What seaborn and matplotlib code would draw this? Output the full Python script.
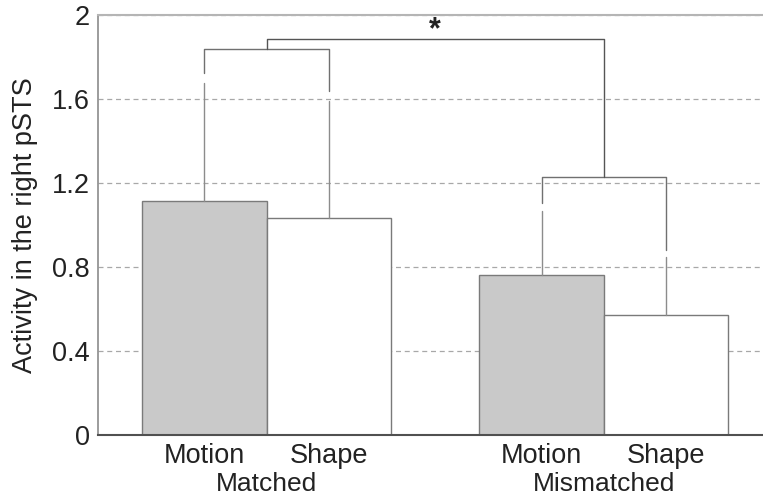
import pandas as pd
import matplotlib
matplotlib.use("Agg")
import matplotlib.pyplot as plt
import seaborn as sns

# values
conditions = ["Matched", "Matched", "Mismatched", "Mismatched"]
features = ["Motion", "Shape", "Motion", "Shape"]
activity = [1.114, 1.033, 0.762, 0.571]
err_upper = [0.562, 0.557, 0.305, 0.277]

# significance brackets
pair_height = [1.838, 1.229]
leg_bottom = [1.724, 1.64, 1.105, 0.879]
top_height = 1.886
star_height = 1.925
y_ticks = [0, 0.4, 0.8, 1.2, 1.6, 2]
y_ticklabels = ["0", "0.4", "0.8", "1.2", "1.6", "2"]

sns.set_theme(style="white")
plt.rcParams["font.family"] = ["Liberation Sans", "DejaVu Sans"]

df = pd.DataFrame({"condition": conditions, "feature": features, "activity": activity})

fig = plt.figure(figsize=(7.63, 4.99), dpi=100)
ax = fig.add_axes([0.1284, 0.1283, 0.875, 0.8417])

sns.barplot(data=df, x="condition", y="activity", hue="feature",
            palette={"Motion": "#c9c9c9", "Shape": "#ffffff"},
            width=0.738, edgecolor="#7a7a7a", linewidth=1.0,
            saturation=1, errorbar=None, legend=False, ax=ax)

bars = sorted(ax.patches, key=lambda p: p.get_x())
xs = [p.get_x() + p.get_width() / 2 for p in bars]

# upper error bars
for x, m, e in zip(xs, activity, err_upper):
    ax.plot([x, x], [m, m + e], color="#8c8c8c", lw=1.0, zorder=1.5)

# group brackets
bracket_kw = dict(color="#707070", lw=1.0, zorder=1.5)
mids = []
for i, h in enumerate(pair_height):
    a, b = xs[2 * i], xs[2 * i + 1]
    ax.plot([a, a, b, b], [leg_bottom[2 * i], h, h, leg_bottom[2 * i + 1]], **bracket_kw)
    mids.append((a + b) / 2)
ax.plot([mids[0], mids[0], mids[1], mids[1]],
        [pair_height[0], top_height, top_height, pair_height[1]], color="#555555", lw=1.0, zorder=1.5)
ax.text((mids[0] + mids[1]) / 2, star_height, "*", ha="center", va="center",
        fontsize=22, fontweight="bold", color="#222222")

ax.set_ylim(0, 2)
ax.set_xlim(-0.5, 1.48)
ax.set_yticks(y_ticks)
ax.set_yticklabels(y_ticklabels, fontsize=19.5, color="#222222")
ax.yaxis.grid(True, linestyle=(0, (4, 3)), color="#a8a8a8", lw=0.9)
ax.set_axisbelow(True)
ax.tick_params(axis="y", length=0, pad=6)

ax.set_xticks(xs, minor=True)
ax.set_xticklabels(features, minor=True, fontsize=19.5, color="#222222")
ax.set_xticks([0, 1])
ax.set_xticklabels(["Matched", "Mismatched"], fontsize=19, color="#222222")
ax.tick_params(axis="x", which="minor", length=0, pad=6)
ax.tick_params(axis="x", which="major", length=0, pad=27)
ax.set_xlabel("")
ax.set_ylabel("Activity in the right pSTS", fontsize=19.5, color="#222222", labelpad=9.5)

ax.spines["right"].set_visible(False)
ax.spines["top"].set_color("#b5b5b5")
ax.spines["top"].set_linewidth(1.5)
ax.spines["left"].set_color("#909090")
ax.spines["bottom"].set_color("#505050")
ax.spines["bottom"].set_linewidth(1.5)

fig.savefig("out.png", dpi=100)
